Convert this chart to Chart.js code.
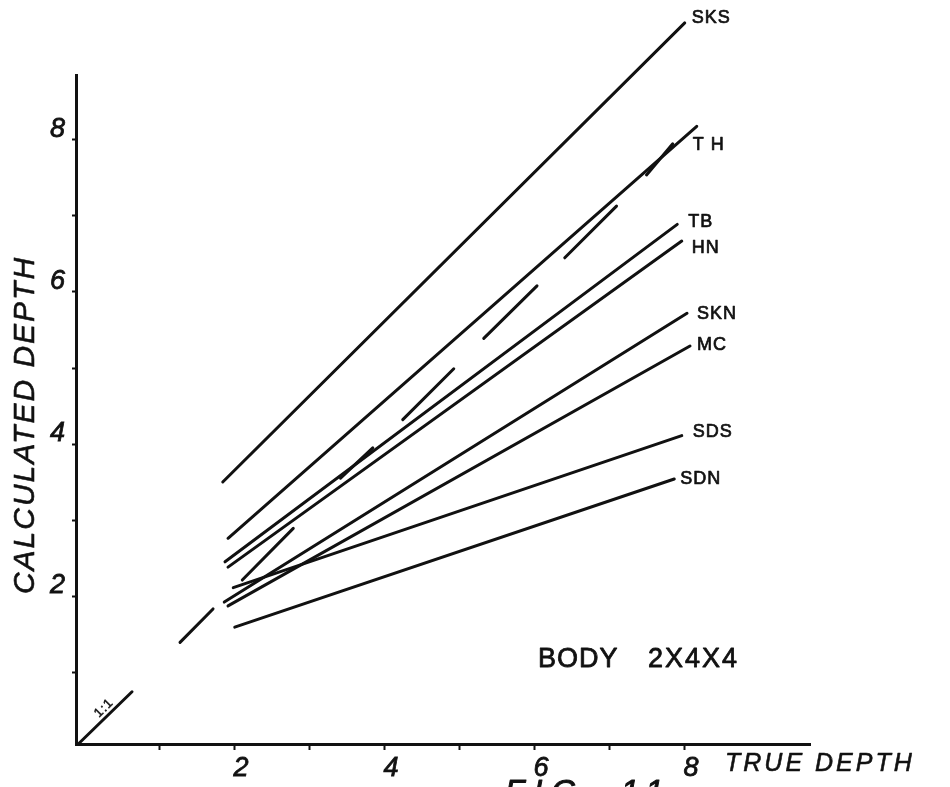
<!DOCTYPE html>
<html>
<head>
<meta charset="utf-8">
<script src="https://cdn.jsdelivr.net/npm/chart.js@4.4.1/dist/chart.umd.min.js"></script>
<style>
  html, body { margin: 0; padding: 0; background: #fff; }
  #wrap { width: 950px; height: 787px; position: relative; }
</style>
</head>
<body>
<div id="wrap"><canvas id="depth-chart"></canvas></div>
<script>
// Fitted lines, one per method: start and end points (true depth, calculated depth)
const seriesNames = ['SKS', 'T H', 'TB', 'HN', 'SKN', 'MC', 'SDS', 'SDN'];
const startX = [1.85, 1.92, 1.88, 1.92, 1.87, 1.92, 1.99, 2.01];
const startY = [3.50, 2.76, 2.45, 2.38, 1.92, 1.87, 2.11, 1.59];
const endX   = [8.01, 8.17, 7.91, 7.97, 8.04, 8.08, 7.97, 7.87];
const endY   = [9.54, 8.18, 6.89, 6.67, 5.72, 5.29, 4.11, 3.54];

// Dashed 1:1 reference line, read segment by segment
const refStartX = [-0.08, 1.28, 2.11, 3.42, 4.25, 5.33, 6.41, 7.50];
const refStartY = [0.05, 1.39, 2.21, 3.55, 4.32, 5.39, 6.45, 7.54];
const refEndX   = [0.64, 1.72, 2.79, 3.85, 4.93, 6.04, 7.10, 7.85];
const refEndY   = [0.74, 1.83, 2.89, 3.95, 4.99, 6.08, 7.13, 7.95];

// Axis ticks
const xTicks = [1, 2, 3, 4, 5, 6, 7, 8];
const yTicks = [1, 2, 3, 4, 5, 6, 7, 8];
const labelledTicks = [2, 4, 6, 8];

// pixel nudges for the curve labels (style only)
const labelShift = [[7, -5], [-4, 19], [11, -2], [10, 7], [10, 1], [7, -1], [11, -4], [6, 0]];

const INK = '#111';

const datasets = seriesNames.map((name, i) => ({
  label: name,
  data: [{ x: startX[i], y: startY[i] }, { x: endX[i], y: endY[i] }],
  borderColor: INK,
  borderWidth: 3,
  borderCapStyle: 'round',
  pointRadius: 0,
  clip: false
}));

const refData = [];
refStartX.forEach((x0, i) => {
  if (i > 0) refData.push({ x: (refEndX[i - 1] + x0) / 2, y: null });
  refData.push({ x: x0, y: refStartY[i] });
  refData.push({ x: refEndX[i], y: refEndY[i] });
});
datasets.push({
  label: '1:1',
  data: refData,
  borderColor: INK,
  borderWidth: 3,
  borderCapStyle: 'round',
  pointRadius: 0,
  spanGaps: false,
  clip: false
});

// fill + stroke so the lettering is as heavy as the drawn original
function inkText(c, str, x, y, weight) {
  c.lineWidth = weight;
  c.strokeStyle = INK;
  c.fillText(str, x, y);
  c.strokeText(str, x, y);
}

const textPlugin = {
  id: 'figText',
  beforeDraw(chart) {
    const c = chart.ctx;
    c.save();
    c.fillStyle = '#fff';
    c.fillRect(0, 0, chart.width, chart.height);
    c.restore();
  },
  afterDatasetsDraw(chart) {
    const c = chart.ctx;
    const sx = chart.scales.x, sy = chart.scales.y;
    c.save();
    c.fillStyle = INK;
    c.lineJoin = 'round';

    // curve labels at the line ends
    c.font = '18px "Liberation Sans"';
    c.letterSpacing = '1px';
    c.textAlign = 'left';
    c.textBaseline = 'middle';
    seriesNames.forEach((name, i) => {
      const px = sx.getPixelForValue(endX[i]) + labelShift[i][0];
      const py = sy.getPixelForValue(endY[i]) + labelShift[i][1];
      inkText(c, name, px, py, 0.7);
    });

    // 1:1 marker along the reference line
    c.save();
    c.translate(104, 708);
    c.rotate(-Math.PI / 4);
    c.font = '13px "Liberation Sans"';
    c.letterSpacing = '1px';
    c.textAlign = 'center';
    inkText(c, '1:1', 0, 0, 0.5);
    c.restore();

    // axis titles
    c.save();
    c.translate(26, 425);
    c.rotate(-Math.PI / 2);
    c.font = 'italic 30px "Liberation Sans"';
    c.letterSpacing = '2px';
    c.textAlign = 'center';
    inkText(c, 'CALCULATED DEPTH', 0, 0, 0.6);
    c.restore();

    c.font = 'italic 25px "Liberation Sans"';
    c.letterSpacing = '3px';
    c.textAlign = 'left';
    inkText(c, 'TRUE DEPTH', 725, 764, 0.6);

    // body note
    c.font = '27px "Liberation Sans"';
    c.letterSpacing = '1px';
    inkText(c, 'BODY', 538, 660, 0.8);
    c.letterSpacing = '2px';
    inkText(c, '2X4X4', 648, 660, 0.8);

    // figure caption, cut by the bottom edge
    c.font = 'italic 32px "Liberation Sans"';
    c.letterSpacing = '9px';
    c.textBaseline = 'top';
    inkText(c, 'FIG. 11', 505, 777, 1);
    c.restore();
  }
};

const tickFont = { family: 'Liberation Sans', size: 27, style: 'italic' };

const ctx = document.getElementById('depth-chart');
new Chart(ctx, {
  type: 'line',
  data: { datasets },
  plugins: [textPlugin],
  options: {
    responsive: true,
    maintainAspectRatio: false,
    animation: false,
    events: [],
    layout: { padding: { left: 36, top: 75, right: 140, bottom: 8 } },
    plugins: { legend: { display: false }, tooltip: { enabled: false } },
    scales: {
      x: {
        type: 'linear',
        min: -0.107,
        max: 9.68,
        afterFit: s => { s.height = 35; },
        afterBuildTicks: s => { s.ticks = xTicks.map(v => ({ value: v })); },
        border: { color: INK, width: 3 },
        grid: { drawOnChartArea: false, tickLength: 6, tickWidth: 2, tickColor: INK },
        ticks: {
          color: INK,
          font: tickFont,
          textStrokeColor: INK,
          textStrokeWidth: 0.8,
          padding: 2,
          labelOffset: 7,
          maxRotation: 0,
          autoSkip: false,
          callback: v => labelledTicks.includes(v) ? String(v) : ''
        }
      },
      y: {
        type: 'linear',
        min: 0.053,
        max: 8.855,
        afterFit: s => { s.width = 40; },
        afterBuildTicks: s => { s.ticks = yTicks.map(v => ({ value: v })); },
        border: { color: INK, width: 3 },
        grid: { drawOnChartArea: false, tickLength: 4, tickWidth: 2, tickColor: INK },
        ticks: {
          color: INK,
          font: tickFont,
          textStrokeColor: INK,
          textStrokeWidth: 0.8,
          padding: 7,
          labelOffset: -11,
          autoSkip: false,
          callback: v => labelledTicks.includes(v) ? String(v) : ''
        }
      }
    }
  }
});
</script>
</body>
</html>
